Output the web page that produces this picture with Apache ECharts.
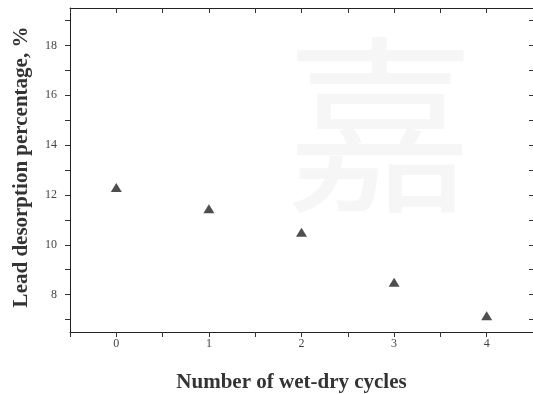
<!DOCTYPE html>
<html>
<head>
<meta charset="utf-8">
<script src="https://cdn.jsdelivr.net/npm/echarts@6/dist/echarts.min.js"></script>
<style>
  html, body { margin: 0; padding: 0; background: #fff; }
  #chart { width: 533px; height: 394px; }
</style>
</head>
<body>
<div id="chart"></div>
<script>
// wet-dry cycle number vs lead desorption (%)
const cycles = [0, 1, 2, 3, 4];
const desorption = [12.3, 11.45, 10.5, 8.5, 7.15];
const xTicks = [0, 1, 2, 3, 4];
const xMinorTicks = [-0.5, 0, 0.5, 1, 1.5, 2, 2.5, 3, 3.5, 4, 4.5];
const yTicks = [8, 10, 12, 14, 16, 18];
const yMinorTicks = [7, 8, 9, 10, 11, 12, 13, 14, 15, 16, 17, 18, 19];

const chart = echarts.init(document.getElementById("chart"), null, { renderer: "canvas" });

const serif = '"Liberation Serif", "DejaVu Serif", serif';
const axisLine = { show: true, onZero: false, lineStyle: { color: "#222", width: 1 } };

chart.setOption({
  animation: false,
  backgroundColor: "#fff",
  grid: { left: 70, right: 0, top: 8, bottom: 62, outerBoundsMode: "none" },
  graphic: [
    {
      type: "text",
      left: 285,
      top: 30,
      silent: true,
      z: -10,
      style: {
        text: "嘉",
        fontSize: 190,
        fontFamily: '"Noto Sans CJK SC", sans-serif',
        fill: "#f6f6f6"
      }
    }
  ],
  xAxis: [
    {
      type: "value",
      min: -0.5,
      max: 4.5,
      interval: 0.5,
      name: "Number of wet-dry cycles",
      nameLocation: "middle",
      nameGap: 40,
      nameTextStyle: {
        fontFamily: serif, fontSize: 21, fontWeight: "bold", color: "#333",
        padding: [0, 20, 0, 0]
      },
      axisLine: axisLine,
      axisTick: { show: true, length: 5, customValues: xMinorTicks, lineStyle: { color: "#333" } },
      splitLine: { show: false },
      axisLabel: {
        fontFamily: serif, fontSize: 12, color: "#444", margin: 6,
        customValues: xTicks
      }
    },
    {
      type: "value",
      position: "top",
      min: -0.5,
      max: 4.5,
      interval: 0.5,
      axisLine: axisLine,
      axisTick: { show: true, inside: true, length: 5, customValues: xMinorTicks, lineStyle: { color: "#333" } },
      axisLabel: { show: false },
      splitLine: { show: false }
    }
  ],
  yAxis: [
    {
      type: "value",
      min: 6.5,
      max: 19.5,
      interval: 0.5,
      name: "Lead desorption percentage, %",
      nameLocation: "middle",
      nameGap: 38,
      nameTextStyle: { fontFamily: serif, fontSize: 21, fontWeight: "bold", color: "#333",
        padding: [0, 0, 0, 6] },
      axisLine: axisLine,
      axisTick: { show: true, length: 5, customValues: yMinorTicks, lineStyle: { color: "#333" } },
      splitLine: { show: false },
      axisLabel: {
        fontFamily: serif, fontSize: 12, color: "#444", margin: 13,
        customValues: yTicks
      }
    },
    {
      type: "value",
      position: "right",
      min: 6.5,
      max: 19.5,
      interval: 0.5,
      axisLine: axisLine,
      axisTick: { show: true, inside: true, length: 4, customValues: yMinorTicks, lineStyle: { color: "#333" } },
      axisLabel: { show: false },
      splitLine: { show: false }
    }
  ],
  series: [
    {
      type: "scatter",
      symbol: "triangle",
      symbolSize: [11, 9],
      itemStyle: { color: "#222" },
      data: cycles.map((c, i) => [c, desorption[i]])
    }
  ]
});
</script>
</body>
</html>
